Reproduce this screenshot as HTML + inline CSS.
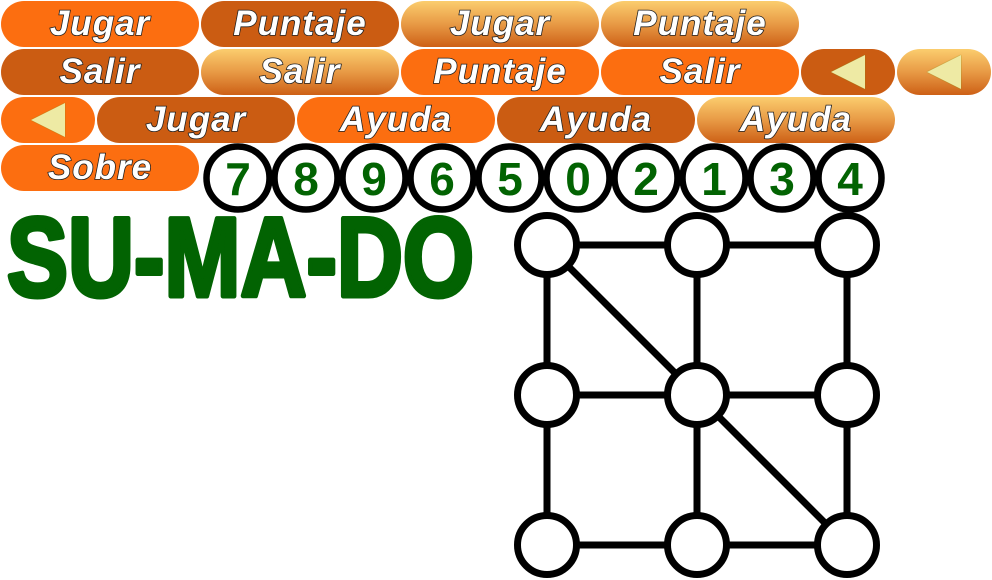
<!DOCTYPE html>
<html><head><meta charset="utf-8"><style>
body{margin:0;width:992px;height:580px;background:#fff;position:relative;overflow:hidden;font-family:"Liberation Sans",sans-serif}
.b{position:absolute;height:46px;border-radius:23px;display:flex;align-items:center;justify-content:center;color:#fff;font-weight:bold;font-style:italic;font-size:35px;letter-spacing:1px;-webkit-text-stroke:1.6px #222;paint-order:stroke fill}
.o{background:#fc6e10}.d{background:#cb5c12}.g{background:linear-gradient(#fbcd6e,#e89a45 50%,#cd6016)}
.tri{width:0;height:0;border-top:17px solid transparent;border-bottom:17px solid transparent;border-right:34px solid #eeeaa4;filter:drop-shadow(0 0 0.6px #8a8a10)}
</style></head><body>
<div class="b o" style="left:1px;top:1px;width:198px">Jugar</div>
<div class="b d" style="left:201px;top:1px;width:198px">Puntaje</div>
<div class="b g" style="left:401px;top:1px;width:198px">Jugar</div>
<div class="b g" style="left:601px;top:1px;width:198px">Puntaje</div>
<div class="b d" style="left:1px;top:49px;width:198px">Salir</div>
<div class="b g" style="left:201px;top:49px;width:198px">Salir</div>
<div class="b o" style="left:401px;top:49px;width:198px">Puntaje</div>
<div class="b o" style="left:601px;top:49px;width:198px">Salir</div>
<div class="b d" style="left:801px;top:49px;width:94px"><div class="tri"></div></div>
<div class="b g" style="left:897px;top:49px;width:94px"><div class="tri"></div></div>
<div class="b o" style="left:1px;top:97px;width:94px"><div class="tri"></div></div>
<div class="b d" style="left:97px;top:97px;width:198px">Jugar</div>
<div class="b o" style="left:297px;top:97px;width:198px">Ayuda</div>
<div class="b d" style="left:497px;top:97px;width:198px">Ayuda</div>
<div class="b g" style="left:697px;top:97px;width:198px">Ayuda</div>
<div class="b o" style="left:1px;top:145px;width:198px">Sobre</div>
<svg width="992" height="580" style="position:absolute;left:0;top:0">
<text x="7" y="296" textLength="467" lengthAdjust="spacingAndGlyphs" font-family="Liberation Sans" font-weight="bold" font-size="112" fill="#026302" stroke="#026302" stroke-width="5" stroke-linejoin="round">SU-MA-DO</text>
<g id="digits"></g>
<g id="board" stroke="#000" stroke-width="7" fill="#fff"></g>
</svg>
<script>
const digits=['7','8','9','6','5','0','2','1','3','4'];
const dg=document.getElementById('digits');
digits.forEach((d,i)=>{
 const cx=238+i*68;
 const c=document.createElementNS('http://www.w3.org/2000/svg','circle');
 c.setAttribute('cx',cx);c.setAttribute('cy',178);c.setAttribute('r',31.5);
 c.setAttribute('fill','#fff');c.setAttribute('stroke','#000');c.setAttribute('stroke-width','6.5');
 
 
 dg.appendChild(c);
 const t=document.createElementNS('http://www.w3.org/2000/svg','text');
 t.setAttribute('x',cx);t.setAttribute('y',195);t.setAttribute('text-anchor','middle');
 t.setAttribute('font-family','Liberation Sans');t.setAttribute('font-weight','bold');t.setAttribute('font-size','46');t.setAttribute('fill','#026302');
 t.textContent=d;
 
 
 dg.appendChild(t);
});
const xs=[547,697,847], ys=[245,395,545];
const edges=[[0,0,1,0],[1,0,2,0],[0,1,1,1],[1,1,2,1],[0,2,1,2],[1,2,2,2],[0,0,0,1],[0,1,0,2],[1,0,1,1],[1,1,1,2],[2,0,2,1],[2,1,2,2],[0,0,1,1],[1,1,2,2]];
const bg=document.getElementById('board');
edges.forEach(e=>{
 const l=document.createElementNS('http://www.w3.org/2000/svg','line');
 l.setAttribute('x1',xs[e[0]]);l.setAttribute('y1',ys[e[1]]);l.setAttribute('x2',xs[e[2]]);l.setAttribute('y2',ys[e[3]]);
 
 
 bg.appendChild(l);
});
ys.forEach(y=>xs.forEach(x=>{
 const c=document.createElementNS('http://www.w3.org/2000/svg','circle');
 c.setAttribute('cx',x);c.setAttribute('cy',y);c.setAttribute('r',29.5);
 
 
 bg.appendChild(c);
}));
</script>
</body></html>
